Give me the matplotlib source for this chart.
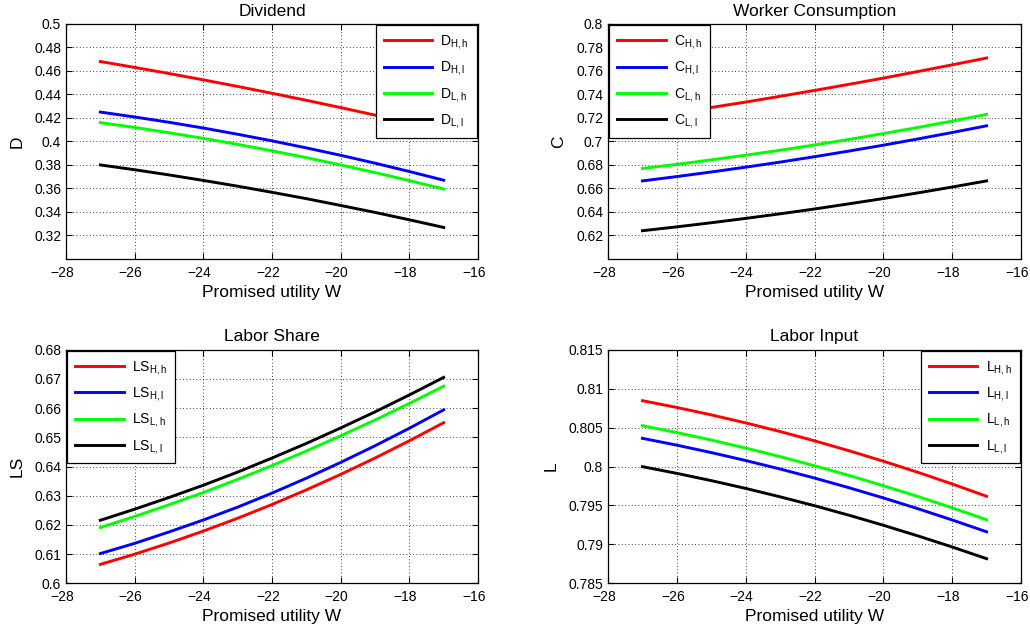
import numpy as np
import matplotlib
matplotlib.use("Agg")
import matplotlib.pyplot as plt
from matplotlib.ticker import FuncFormatter
from matplotlib.transforms import ScaledTranslation

plt.rcParams['font.family'] = ['Liberation Sans', 'DejaVu Sans']
plt.rcParams['mathtext.default'] = 'regular'

# ---------- datos ----------
W = [-27, -26, -25, -24, -23, -22, -21, -20, -19, -18, -17]

D_Hh = [0.468, 0.463, 0.4578, 0.4524, 0.4468, 0.4410, 0.4350, 0.4288, 0.4224, 0.4158, 0.4090]
D_Hl = [0.425, 0.4208, 0.4163, 0.4114, 0.4061, 0.4005, 0.3945, 0.3882, 0.3815, 0.3744, 0.3670]
D_Lh = [0.416, 0.4119, 0.4074, 0.4026, 0.3975, 0.3920, 0.3862, 0.3800, 0.3735, 0.3667, 0.3595]
D_Ll = [0.380, 0.3759, 0.3715, 0.3668, 0.3619, 0.3567, 0.3513, 0.3455, 0.3396, 0.3333, 0.3268]

C_Hh = [0.720, 0.7243, 0.7289, 0.7335, 0.7384, 0.7434, 0.7486, 0.7539, 0.7595, 0.7652, 0.7710]
C_Hl = [0.6664, 0.6701, 0.6740, 0.6781, 0.6824, 0.6870, 0.6918, 0.6968, 0.7021, 0.7076, 0.7133]
C_Lh = [0.677, 0.6805, 0.6843, 0.6883, 0.6925, 0.6970, 0.7017, 0.7067, 0.7119, 0.7173, 0.7230]
C_Ll = [0.624, 0.6273, 0.6308, 0.6345, 0.6384, 0.6425, 0.6469, 0.6514, 0.6562, 0.6612, 0.6664]

LS_Hh = [0.6065, 0.6100, 0.6138, 0.6179, 0.6223, 0.6270, 0.6320, 0.6373, 0.6429, 0.6488, 0.6550]
LS_Hl = [0.6102, 0.6137, 0.6176, 0.6217, 0.6261, 0.6309, 0.6360, 0.6414, 0.6471, 0.6531, 0.6594]
LS_Lh = [0.6191, 0.6229, 0.6269, 0.6311, 0.6356, 0.6403, 0.6453, 0.6505, 0.6559, 0.6616, 0.6675]
LS_Ll = [0.6216, 0.6254, 0.6294, 0.6336, 0.6381, 0.6429, 0.6479, 0.6532, 0.6587, 0.6645, 0.6705]

L_Hh = [0.80845, 0.80758, 0.80663, 0.80560, 0.80449, 0.80330, 0.80203, 0.80068, 0.79926, 0.79776, 0.79618]
L_Hl = [0.80362, 0.80274, 0.80179, 0.80077, 0.79968, 0.79852, 0.79728, 0.79597, 0.79459, 0.79314, 0.79162]
L_Lh = [0.80524, 0.80436, 0.80340, 0.80237, 0.80127, 0.80010, 0.79886, 0.79754, 0.79616, 0.79470, 0.79317]
L_Ll = [0.79998, 0.79912, 0.79819, 0.79719, 0.79611, 0.79497, 0.79375, 0.79246, 0.79110, 0.78967, 0.78817]

states = ["H,h", "H,l", "L,h", "L,l"]
colors = ["#ff0000", "#0000ff", "#00ff00", "#000000"]
xticks = [-28, -26, -24, -22, -20, -18, -16]


def fmt_g(v, pos):
    return "%g" % round(v, 4)


def plot_panel(rect, series, sym, title, ylim, yticks, loc):
    ax = fig.add_axes(rect)
    for ys, st, c in zip(series, states, colors):
        ax.plot(W, ys, color=c, lw=2.1, label=sym + "$_{" + st + "}$")
    ax.set_xlim(-28, -16)
    ax.set_ylim(*ylim)
    ax.set_xticks(xticks)
    ax.set_yticks(yticks)
    ax.yaxis.set_major_formatter(FuncFormatter(fmt_g))
    ax.grid(True, color="black", linestyle=(0, (1, 3)), linewidth=0.6)
    ax.tick_params(direction="in", top=True, right=True, labelsize=10, length=4)
    ax.tick_params(axis="x", pad=5)
    # etiquetas del eje x algo corridas a la izquierda, como en MATLAB
    off = ScaledTranslation(-4 / 100, 0, fig.dpi_scale_trans)
    for lab in ax.get_xticklabels():
        lab.set_transform(lab.get_transform() + off)
    for s in ax.spines.values():
        s.set_linewidth(0.9)
    ax.set_xlabel("Promised utility W", fontsize=12.5, labelpad=3.5)
    ax.set_ylabel(sym, fontsize=12.5, labelpad=7)
    ax.set_title(title, fontsize=12.5, pad=6)
    leg = ax.legend(loc=loc, fontsize=10, handlelength=3.5, labelspacing=0.6,
                    borderaxespad=0.1, fancybox=False, framealpha=1,
                    edgecolor="black", handletextpad=0.6, borderpad=0.55)
    leg.get_frame().set_linewidth(0.9)
    return ax


fig = plt.figure(figsize=(10.3, 6.3), dpi=100)

plot_panel([0.0641, 0.589, 0.400, 0.373], [D_Hh, D_Hl, D_Lh, D_Ll], "D", "Dividend",
           (0.30, 0.50), np.round(np.arange(0.32, 0.501, 0.02), 2), "upper right")
plot_panel([0.5903, 0.589, 0.401, 0.373], [C_Hh, C_Hl, C_Lh, C_Ll], "C", "Worker Consumption",
           (0.60, 0.80), np.round(np.arange(0.62, 0.801, 0.02), 2), "upper left")
plot_panel([0.0641, 0.074, 0.400, 0.371], [LS_Hh, LS_Hl, LS_Lh, LS_Ll], "LS", "Labor Share",
           (0.60, 0.68), np.round(np.arange(0.60, 0.681, 0.01), 2), "upper left")
plot_panel([0.5903, 0.074, 0.401, 0.371], [L_Hh, L_Hl, L_Lh, L_Ll], "L", "Labor Input",
           (0.785, 0.815), np.round(np.arange(0.785, 0.8151, 0.005), 3), "upper right")

plt.savefig("out.png", dpi=100)
